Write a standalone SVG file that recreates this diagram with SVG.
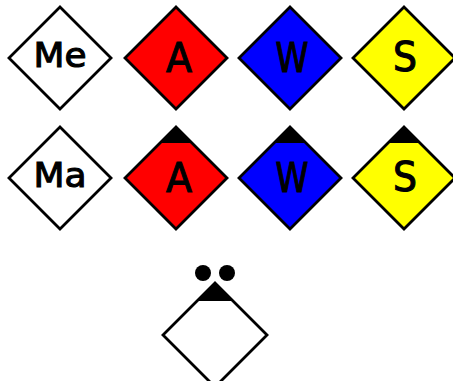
<svg xmlns="http://www.w3.org/2000/svg" width="453" height="381" viewBox="0 0 453 381">
<style>
.d{stroke:#000;stroke-width:2.8;stroke-linejoin:miter}
.w{fill:#fff}.r{fill:#ff0000}.b{fill:#0000ff}.y{fill:#ffff00}
.cap{fill:#000}
text{font-family:"DejaVu Sans","Liberation Sans",sans-serif;fill:#000;stroke:#000;stroke-width:1.1;text-anchor:middle}
.big{font-size:40px}.sm{font-size:34px}
</style>
<rect width="453" height="381" fill="#fff"/>
<g id="Me">
<polygon class="d w" points="60,7 111,58 60,109 9,58"/>
<text class="sm" x="60" y="67" textLength="53" lengthAdjust="spacingAndGlyphs">Me</text>
</g>
<g id="A1">
<polygon class="d r" points="176,7 227,58 176,109 125,58"/>
<text class="big" x="179" y="72" textLength="26" lengthAdjust="spacingAndGlyphs">A</text>
</g>
<g id="W1">
<polygon class="d b" points="290,7 341,58 290,109 239,58"/>
<text class="big" x="292" y="72" textLength="33" lengthAdjust="spacingAndGlyphs">W</text>
</g>
<g id="S1">
<polygon class="d y" points="404,7 455,58 404,109 353,58"/>
<text class="big" x="405" y="71" textLength="24" lengthAdjust="spacingAndGlyphs">S</text>
</g>
<g id="Ma">
<polygon class="d w" points="60,127 111,178 60,229 9,178"/>
<text class="sm" x="60" y="187" textLength="53" lengthAdjust="spacingAndGlyphs">Ma</text>
</g>
<g id="A2">
<polygon class="d r" points="176,127 227,178 176,229 125,178"/>
<polygon class="cap" points="176,127 192,143 160,143"/>
<text class="big" x="179" y="192" textLength="26" lengthAdjust="spacingAndGlyphs">A</text>
</g>
<g id="W2">
<polygon class="d b" points="290,127 341,178 290,229 239,178"/>
<polygon class="cap" points="290,127 306,143 274,143"/>
<text class="big" x="292" y="192" textLength="33" lengthAdjust="spacingAndGlyphs">W</text>
</g>
<g id="S2">
<polygon class="d y" points="404,127 455,178 404,229 353,178"/>
<polygon class="cap" points="404,127 420,143 388,143"/>
<text class="big" x="405" y="191" textLength="24" lengthAdjust="spacingAndGlyphs">S</text>
</g>
<g id="Bottom">
<polygon class="d w" points="215,283 267,335 215,387 163,335"/>
<polygon class="cap" points="215,283 233,301 197,301"/>
<circle cx="203" cy="273" r="8" fill="#000"/>
<circle cx="227" cy="273" r="8" fill="#000"/>
</g>
<g id="connectors"></g>
</svg>
